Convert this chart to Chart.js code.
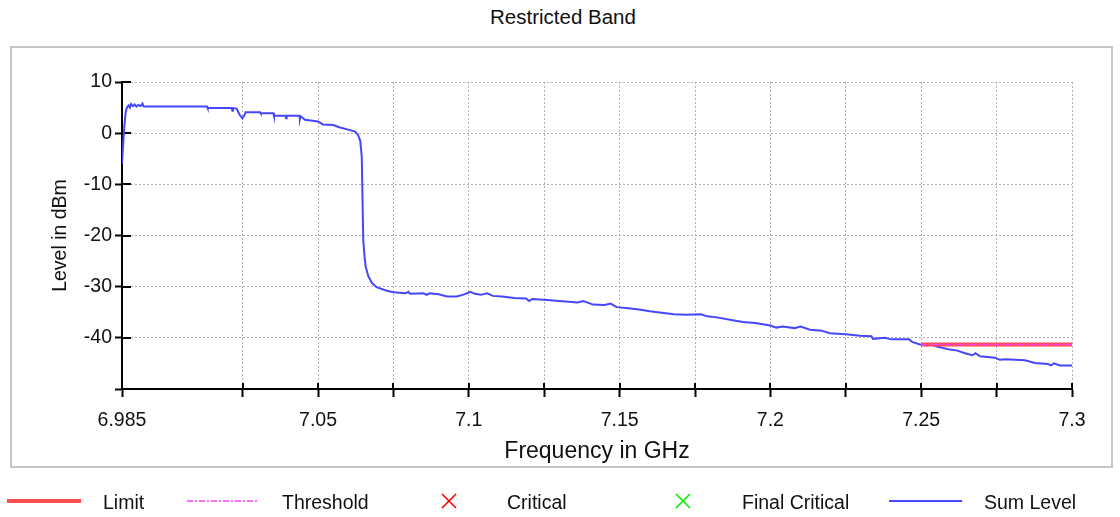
<!DOCTYPE html>
<html><head><meta charset="utf-8">
<script src="https://cdn.jsdelivr.net/npm/chart.js@4/dist/chart.umd.min.js"></script>
<style>
html,body{margin:0;padding:0;background:#fff;}
#wrap{position:relative;width:1120px;height:517px;overflow:hidden;font-family:"Liberation Sans",Arial,sans-serif;}
#frame{position:absolute;left:10px;top:46px;width:1099px;height:418px;border:2px solid #c6c6c6;}
#title{position:absolute;left:463px;width:200px;top:4px;text-align:center;font-size:20.5px;line-height:26px;color:#111;white-space:nowrap;}
canvas{position:absolute;left:0;top:0;}
.lg{position:absolute;top:490px;font-size:19.5px;line-height:24px;color:#111;white-space:nowrap;}
.sym{position:absolute;}
</style></head><body>
<div id="wrap">
<div id="frame"></div>
<div id="title"></div>
<canvas id="c" width="1120" height="517"></canvas>
<div id="legend"></div>
</div>
<script>
// ---- Data ----
const chartTitle = 'Restricted Band';
const xAxisTitle = 'Frequency in GHz';
const yAxisTitle = 'Level in dBm';

const xTickValues = [6.985, 7.025, 7.05, 7.075, 7.1, 7.125, 7.15, 7.175, 7.2, 7.225, 7.25, 7.275, 7.3];
const xTickLabels = ['6.985', '', '7.05', '', '7.1', '', '7.15', '', '7.2', '', '7.25', '', '7.3'];
const yMin = -50, yMax = 10, yStep = 5;

const sumFreq = [
 6.9850, 6.9854, 6.9858, 6.9862, 6.9866, 6.9872, 6.9876, 6.9880, 6.9886, 6.9892, 6.9898, 6.9904, 6.9912, 6.9918, 6.9922,
 7.0132, 7.0134, 7.0214, 7.0216, 7.0218, 7.0230, 7.0240, 7.0249, 7.0255, 7.0260, 7.0308, 7.0310, 7.0352, 7.0354,
 7.0392, 7.0394, 7.0396, 7.0438, 7.0440, 7.0442, 7.0457, 7.0500, 7.0516, 7.0550, 7.0573, 7.0606, 7.0623, 7.0633,
 7.0640, 7.0645, 7.0650, 7.0654, 7.0658, 7.0667, 7.0679, 7.0694, 7.0728, 7.0750,
 7.0790, 7.0800, 7.0805, 7.0850, 7.0860, 7.0870, 7.0900, 7.0928, 7.0960, 7.0985, 7.1005, 7.1020, 7.1040, 7.1060,
 7.1080, 7.1110, 7.1150, 7.1190, 7.1200, 7.1210, 7.1260, 7.1320, 7.1360, 7.1380, 7.1412, 7.1450, 7.1470, 7.1490,
 7.1530, 7.1570, 7.1600, 7.1640, 7.1680, 7.1720, 7.1770, 7.1790, 7.1823, 7.1870, 7.1909, 7.1950, 7.1999, 7.2020,
 7.2040, 7.2080, 7.2100, 7.2131, 7.2170, 7.2197, 7.2250, 7.2297, 7.2335, 7.2340, 7.2380, 7.2400, 7.2460, 7.2470,
 7.2496, 7.2520, 7.2530, 7.2552, 7.2595, 7.2620, 7.2645, 7.2670, 7.2680, 7.2695, 7.2745, 7.2761, 7.2780, 7.2844,
 7.2877, 7.2920, 7.2930, 7.2940, 7.2960, 7.3000
];
const sumLevel = [
 -6.0, -2.0, 1.5, 4.0, 5.0, 5.4, 5.0, 5.7, 5.3, 5.6, 5.2, 5.5, 5.3, 5.8, 5.2,
 5.2, 4.9, 4.9, 4.4, 4.9, 4.8, 3.6, 2.9, 3.4, 4.1, 4.1, 3.9, 3.9, 3.4,
 3.4, 2.9, 3.4, 3.4, 2.8, 3.3, 2.6, 2.3, 1.7, 1.6, 1.1, 0.6, 0.3, -0.4,
 -1.5, -4.6, -21.0, -24.0, -26.1, -28.0, -29.3, -30.1, -30.8, -31.1,
 -31.3, -31.0, -31.4, -31.3, -31.6, -31.3, -31.5, -31.9, -31.9, -31.5, -31.0, -31.4, -31.6, -31.3,
 -31.8, -31.9, -32.2, -32.3, -32.8, -32.4, -32.6, -32.9, -33.1, -32.8, -33.5, -33.6, -33.3, -34.0,
 -34.2, -34.5, -34.8, -35.1, -35.4, -35.5, -35.4, -35.8, -36.0, -36.5, -36.9, -37.1, -37.6, -38.0,
 -37.8, -38.1, -37.8, -38.4, -38.6, -39.1, -39.3, -39.6, -39.7, -40.2, -40.0, -40.3, -40.3, -40.8,
 -41.3, -41.5, -41.2, -41.7, -42.3, -42.5, -43.0, -43.4, -43.0, -43.6, -43.9, -44.3, -44.2, -44.4,
 -44.9, -45.1, -45.4, -45.0, -45.4, -45.4
];
const limitFreq = [7.25, 7.3];
const limitLevel = [-41.3, -41.3];
const thresholdFreq = [7.25, 7.3];
const thresholdLevel = [-41.3, -41.3];
const criticalPoints = [];
const finalCriticalPoints = [];

const legendNames = ['Limit', 'Threshold', 'Critical', 'Final Critical', 'Sum Level'];

// ---- Build ----
const toXY = (xs, ys) => xs.map((x, i) => ({x: x, y: ys[i]}));
const FONT = '"Liberation Sans", Arial, sans-serif';

document.getElementById('title').textContent = chartTitle;

const crossTicks = {
  id: 'crossTicks',
  beforeDatasetsDraw(chart) {
    const ctx = chart.ctx, xs = chart.scales.x, ys = chart.scales.y;
    ctx.save();
    ctx.strokeStyle = '#000';
    ctx.lineWidth = 2;
    xs.ticks.forEach(t => {
      const px = Math.round(xs.getPixelForValue(t.value));
      ctx.beginPath(); ctx.moveTo(px, ys.bottom); ctx.lineTo(px, ys.bottom - 6); ctx.stroke();
    });
    ys.ticks.forEach(t => {
      const py = Math.round(ys.getPixelForValue(t.value));
      ctx.beginPath(); ctx.moveTo(xs.left, py); ctx.lineTo(xs.left + 9, py); ctx.stroke();
    });
    ctx.restore();
  }
};

new Chart(document.getElementById('c'), {
  type: 'line',
  data: {
    datasets: [
      {label: 'Threshold', data: toXY(thresholdFreq, thresholdLevel), borderColor: '#ff3cff', borderWidth: 1.5, borderDash: [6, 2, 2, 2], pointRadius: 0, fill: false},
      {label: 'Limit', data: toXY(limitFreq, limitLevel), borderColor: 'rgb(255,77,77)', borderWidth: 4, pointRadius: 0, fill: false},
      {label: 'Critical', data: criticalPoints, showLine: false, pointStyle: 'cross', borderColor: '#ff0000'},
      {label: 'Final Critical', data: finalCriticalPoints, showLine: false, pointStyle: 'cross', borderColor: '#00ee00'},
      {label: 'Sum Level', data: toXY(sumFreq, sumLevel), borderColor: '#4646ff', borderWidth: 2, pointRadius: 0, fill: false, tension: 0}
    ]
  },
  options: {
    responsive: false,
    animation: false,
    devicePixelRatio: 1,
    layout: {padding: {left: 12, right: 48, top: 82, bottom: 47}},
    plugins: {
      legend: {display: false},
      tooltip: {enabled: false},
      title: {display: false}
    },
    scales: {
      x: {
        type: 'linear', min: 6.985, max: 7.3,
        afterBuildTicks: s => { s.ticks = xTickValues.map(v => ({value: v})); },
        afterFit: s => { s.height = 81; },
        ticks: {autoSkip: false, maxRotation: 0, padding: 12, color: '#111', font: {family: FONT, size: 19.5},
          callback: (v, i) => xTickLabels[i]},
        grid: {color: '#b0b0b0', lineWidth: 1, tickLength: 8, tickWidth: 2, tickColor: '#000'},
        border: {display: true, color: '#000', width: 2, dash: [2, 2]},
        title: {display: true, text: xAxisTitle, color: '#111', font: {family: FONT, size: 23}, padding: {top: 0, bottom: 5}}
      },
      y: {
        min: yMin, max: yMax,
        afterFit: s => { s.width = 110; },
        ticks: {stepSize: yStep, padding: 3, color: '#111', font: {family: FONT, size: 19.5},
          callback: v => (v % 10 === 0 && v > yMin) ? String(v) : ''},
        grid: {color: '#b0b0b0', lineWidth: 1, tickLength: 7, tickWidth: 2, tickColor: '#000'},
        border: {display: true, color: '#000', width: 2, dash: [2, 2]},
        title: {display: true, text: yAxisTitle, color: '#111', font: {family: FONT, size: 19.5}, padding: {top: 37, bottom: 0}}
      }
    }
  },
  plugins: [crossTicks]
});

// ---- Legend (HTML) ----
const lg = document.getElementById('legend');
const textLeft = [103, 282, 507, 742, 984];
legendNames.forEach((n, i) => {
  const d = document.createElement('div');
  d.className = 'lg'; d.style.left = textLeft[i] + 'px'; d.textContent = n;
  lg.appendChild(d);
});
lg.insertAdjacentHTML('beforeend',
  '<svg class="sym" style="left:0;top:485px" width="1120" height="32">' +
  '<line x1="7" y1="16" x2="81" y2="16" stroke="rgb(255,77,77)" stroke-width="4"/>' +
  '<line x1="187" y1="16" x2="259" y2="16" stroke="#ff3cff" stroke-width="1.5" stroke-dasharray="6 2 2 2"/>' +
  '<line x1="442" y1="9" x2="456" y2="23" stroke="#ff0000" stroke-width="1.6"/>' +
  '<line x1="456" y1="9" x2="442" y2="23" stroke="#ff0000" stroke-width="1.6"/>' +
  '<line x1="676" y1="9" x2="690" y2="23" stroke="#00ee00" stroke-width="1.6"/>' +
  '<line x1="690" y1="9" x2="676" y2="23" stroke="#00ee00" stroke-width="1.6"/>' +
  '<line x1="889" y1="16" x2="962" y2="16" stroke="#4646ff" stroke-width="2"/>' +
  '</svg>');
</script>
</body></html>
